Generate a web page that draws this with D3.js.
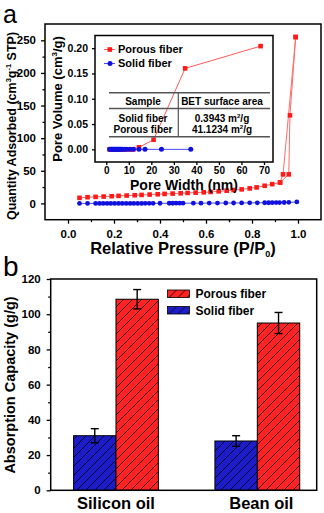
<!DOCTYPE html>
<html>
<head>
<meta charset="utf-8">
<script src="https://cdn.jsdelivr.net/npm/d3@7"></script>
<style>
  body { margin: 0; background: #fff; }
  svg { font-family: "Liberation Sans", Arial, sans-serif; font-weight: bold; }
</style>
</head>
<body>
<svg id="chart" width="324" height="513"></svg>
<script>
// --- panel a: N2 isotherm ---
var pressure_porous = [0.05,0.085,0.12,0.155,0.19,0.22,0.255,0.29,0.32,0.355,0.39,0.42,0.455,0.49,0.52,0.555,0.59,0.62,0.655,0.69,0.72,0.755,0.79,0.82,0.855,0.888,0.922,0.935,0.99];
var adsorbed_porous = [8.5,9.5,10,10.5,11,11.5,12,12.5,13,13.5,14,14.5,15,15.5,16,16.5,17,17.5,18.5,19.5,20.5,21.5,23,24.5,27,29.5,32,44.5,255];
var pressure_porous_des = [0.99,0.965,0.96,0.922];
var adsorbed_porous_des = [255,135,44.5,32];
var pressure_solid = [0.05,0.085,0.12,0.137,0.153,0.17,0.186,0.203,0.22,0.236,0.253,0.27,0.286,0.303,0.32,0.336,0.353,0.37,0.40,0.44,0.455,0.47,0.485,0.50,0.545,0.578,0.614,0.65,0.686,0.72,0.755,0.79,0.823,0.855,0.872,0.888,0.905,0.92,0.94,0.96,0.995];
var adsorbed_solid = [0,0,0,0,0,0,0,0,0,0,0,0,0,0,0,0.1,0.1,0.1,0.2,0.2,0.2,0.3,0.3,0.3,0.4,0.4,0.5,0.5,0.6,0.6,0.7,0.8,0.9,1,1,1.1,1.2,1.3,1.4,1.6,2.2];

// inset: pore size distribution
var width_porous = [1.5,2,2.5,3,3.5,4,4.5,5,5.5,6,7,8,9,10.5,12,14.5,21,35,68.5];
var volume_porous = [0,0,0,0,0,0,0,0,0,0,0,0,0,0,0,0.004,0.019,0.16,0.204];
var width_solid = [1.5,2,2.5,3,3.5,4,4.5,5,5.5,6,6.5,7,8,9,10.5,12,14.5,17.2,24.5,37.5];
var volume_solid = [0,0,0,0,0,0,0,0,0,0,0,0,0,0,0,0,0,0,0,0];

var table_samples = ["Solid fiber", "Porous fiber"];
var table_bet = ["0.3943", "41.1234"];

// --- panel b: absorption capacity ---
var oils = ["Silicon oil", "Bean oil"];
var fibers = ["Solid fiber", "Porous fiber"];
var capacity_solid = [31, 28];
var capacity_porous = [108.5, 95];
var error_solid = [4, 3];
var error_porous = [5.5, 6];

var RED = "#ff2222", BLUE = "#1c1cc8";

var svg = d3.select("#chart");
var defs = svg.append("defs");
[["hatch-red", RED], ["hatch-blue", BLUE]].forEach(function(h) {
  var p = defs.append("pattern")
    .attr("id", h[0])
    .attr("patternUnits", "userSpaceOnUse")
    .attr("width", 9).attr("height", 9);
  p.append("rect").attr("width", 9).attr("height", 9).attr("fill", h[1]);
  p.append("path")
    .attr("d", "M-2,2 L2,-2 M0,9 L9,0 M7,11 L11,7")
    .attr("stroke", "#000").attr("stroke-width", 0.8);
});

function frame(g, x0, y0, x1, y1) {
  g.append("rect")
    .attr("x", x0).attr("y", y0)
    .attr("width", x1 - x0).attr("height", y1 - y0)
    .attr("fill", "none").attr("stroke", "#000").attr("stroke-width", 1.5);
}

function styleAxis(sel, size) {
  sel.select(".domain").remove();
  sel.selectAll("line").attr("stroke", "#000").attr("stroke-width", 1.3);
  sel.selectAll("text").attr("fill", "#000").style("font-size", size + "px").style("font-weight", "bold");
}

// ================= panel a =================
var a = svg.append("g");
var x = d3.scaleLinear().domain([-0.1, 1.1]).range([45, 321]);
var y = d3.scaleLinear().domain([-25, 275]).range([219.7, 24]);

a.append("g")
  .attr("transform", "translate(0,219.7)")
  .call(d3.axisBottom(x).tickValues([0.1,0.3,0.5,0.7,0.9]).tickSize(2.5).tickFormat(""))
  .call(styleAxis, 11);
a.append("g")
  .attr("transform", "translate(0,219.7)")
  .call(d3.axisBottom(x).tickValues([0,0.2,0.4,0.6,0.8,1.0]).tickSize(4).tickPadding(6).tickFormat(d3.format(".1f")))
  .call(styleAxis, 11.5);
a.append("g")
  .attr("transform", "translate(45,0)")
  .call(d3.axisLeft(y).tickValues([25,75,125,175,225]).tickSize(2.5).tickFormat(""))
  .call(styleAxis, 11);
a.append("g")
  .attr("transform", "translate(45,0)")
  .call(d3.axisLeft(y).tickValues([0,50,100,150,200,250]).tickSize(4).tickPadding(5))
  .call(styleAxis, 11.5);
frame(a, 45, 24, 321, 219.7);

var line = d3.line().x(function(d) { return x(d[0]); }).y(function(d) { return y(d[1]); });
var solidPts = d3.zip(pressure_solid, adsorbed_solid);
var porousPts = d3.zip(pressure_porous, adsorbed_porous);
var porousDes = d3.zip(pressure_porous_des, adsorbed_porous_des);

a.append("path").datum(solidPts).attr("d", line)
  .attr("fill", "none").attr("stroke", "#4a4aff").attr("stroke-width", 1);
a.selectAll(".sd").data(solidPts).enter().append("circle")
  .attr("cx", function(d) { return x(d[0]); }).attr("cy", function(d) { return y(d[1]); })
  .attr("r", 2.4).attr("fill", "#1010e0");
[porousPts, porousDes].forEach(function(pts) {
  a.append("path").datum(pts).attr("d", line)
    .attr("fill", "none").attr("stroke", "#ff6a6a").attr("stroke-width", 1);
  a.selectAll(null).data(pts).enter().append("rect")
    .attr("x", function(d) { return x(d[0]) - 2.3; }).attr("y", function(d) { return y(d[1]) - 2.3; })
    .attr("width", 4.6).attr("height", 4.6).attr("fill", "#ff1a1a");
});

a.append("text").attr("x", 3).attr("y", 22.5)
  .style("font-size", "25px").style("font-weight", "normal").text("a");

a.append("text")
  .attr("text-anchor", "middle")
  .attr("transform", "translate(16,126) rotate(-90)")
  .style("font-size", "12.5px")
  .call(function(t) {
    t.append("tspan").text("Quantity Adsorbed (cm");
    t.append("tspan").attr("dy", -5).style("font-size", "7.5px").text("3");
    t.append("tspan").attr("dy", 5).text("g");
    t.append("tspan").attr("dy", -5).style("font-size", "7.5px").text("-1");
    t.append("tspan").attr("dy", 5).text(" STP)");
  });

a.append("text")
  .attr("text-anchor", "middle")
  .attr("x", 183).attr("y", 254)
  .style("font-size", "16.5px")
  .call(function(t) {
    t.append("tspan").text("Relative Pressure (P/P");
    t.append("tspan").attr("dy", 3).style("font-size", "9px").text("0");
    t.append("tspan").attr("dy", -3).text(")");
  });

// ---- inset ----
var ins = svg.append("g");
var xi = d3.scaleLinear().domain([-5, 74]).range([95, 273]);
var yi = d3.scaleLinear().domain([-0.025, 0.225]).range([162, 35.5]);

ins.append("rect").attr("x", 95).attr("y", 35.5).attr("width", 178).attr("height", 126.5).attr("fill", "#fff");
ins.append("g")
  .attr("transform", "translate(0,162)")
  .call(d3.axisBottom(xi).tickValues([0,10,20,30,40,50,60,70]).tickSize(3).tickPadding(2))
  .call(styleAxis, 10);
ins.append("g")
  .attr("transform", "translate(95,0)")
  .call(d3.axisLeft(yi).tickValues([0,0.05,0.1,0.15,0.2]).tickSize(3).tickPadding(4).tickFormat(d3.format(".2f")))
  .call(styleAxis, 10.5);
frame(ins, 95, 35.5, 273, 162);

var iline = d3.line().x(function(d) { return xi(d[0]); }).y(function(d) { return yi(d[1]); });
var iPorous = d3.zip(width_porous, volume_porous);
var iSolid = d3.zip(width_solid, volume_solid);

ins.append("path").datum(iPorous).attr("d", iline)
  .attr("fill", "none").attr("stroke", "#ff5a5a").attr("stroke-width", 1);
ins.selectAll(".ip").data(iPorous).enter().append("rect")
  .attr("x", function(d) { return xi(d[0]) - 2.3; }).attr("y", function(d) { return yi(d[1]) - 2.3; })
  .attr("width", 4.6).attr("height", 4.6).attr("fill", "#ff1a1a");
ins.append("path").datum(iSolid).attr("d", iline)
  .attr("fill", "none").attr("stroke", "#4a4aff").attr("stroke-width", 1);
ins.selectAll(".is").data(iSolid).enter().append("circle")
  .attr("cx", function(d) { return xi(d[0]); }).attr("cy", function(d) { return yi(d[1]); })
  .attr("r", 2.5).attr("fill", "#1010e0");

// inset legend
var ileg = ins.append("g");
ileg.append("line").attr("x1", 104).attr("x2", 115).attr("y1", 49.5).attr("y2", 49.5).attr("stroke", "#ff5a5a");
ileg.append("rect").attr("x", 107.5).attr("y", 47.2).attr("width", 4.6).attr("height", 4.6).attr("fill", "#ff1a1a");
ileg.append("text").attr("x", 118).attr("y", 53.3).style("font-size", "11px").text("Porous fiber");
ileg.append("line").attr("x1", 104).attr("x2", 115).attr("y1", 63.5).attr("y2", 63.5).attr("stroke", "#4a4aff");
ileg.append("circle").attr("cx", 110).attr("cy", 63.5).attr("r", 2.5).attr("fill", "#1010e0");
ileg.append("text").attr("x", 118).attr("y", 67.3).style("font-size", "11px").text("Solid fiber");

// BET table
var tb = ins.append("g");
[92.7, 108.5, 136.7].forEach(function(ty) {
  tb.append("line").attr("x1", 109).attr("x2", 270).attr("y1", ty).attr("y2", ty)
    .attr("stroke", "#555").attr("stroke-width", 1.5);
});
tb.append("line").attr("x1", 178.3).attr("x2", 178.3).attr("y1", 92.7).attr("y2", 136.7)
  .attr("stroke", "#555").attr("stroke-width", 1.2);
tb.append("text").attr("x", 143).attr("y", 104.5).attr("text-anchor", "middle").style("font-size", "10px").text("Sample");
tb.append("text").attr("x", 222).attr("y", 104.5).attr("text-anchor", "middle").style("font-size", "10px").text("BET surface area");
table_samples.forEach(function(s, i) {
  var ty = 121.5 + i * 11.5;
  tb.append("text").attr("x", 143).attr("y", ty).attr("text-anchor", "middle").style("font-size", "10px").text(s);
  tb.append("text").attr("x", 222).attr("y", ty).attr("text-anchor", "middle").style("font-size", "10px")
    .call(function(t) {
      t.append("tspan").text(table_bet[i] + " m");
      t.append("tspan").attr("dy", -4).style("font-size", "6px").text("2");
      t.append("tspan").attr("dy", 4).text("/g");
    });
});

ins.append("text")
  .attr("text-anchor", "middle")
  .attr("transform", "translate(62,99) rotate(-90)")
  .style("font-size", "13px")
  .call(function(t) {
    t.append("tspan").text("Pore Volume (cm");
    t.append("tspan").attr("dy", -5).style("font-size", "8px").text("3");
    t.append("tspan").attr("dy", 5).text("/g)");
  });
ins.append("text").attr("x", 184).attr("y", 190).attr("text-anchor", "middle")
  .style("font-size", "14px").text("Pore Width (nm)");

// ================= panel b =================
var b = svg.append("g");
var yb = d3.scaleLinear().domain([0, 120]).range([490.3, 279]);
var xb = d3.scaleBand().domain(oils).range([45.3, 328]).paddingInner(0.4).paddingOuter(0.2);
var xs = d3.scaleBand().domain(fibers).range([0, xb.bandwidth()]);

b.append("g")
  .attr("transform", "translate(50.7,0)")
  .call(d3.axisLeft(yb).tickValues([10,30,50,70,90,110]).tickSize(2.5).tickFormat(""))
  .call(styleAxis, 11);
b.append("g")
  .attr("transform", "translate(50.7,0)")
  .call(d3.axisLeft(yb).tickValues([0,20,40,60,80,100,120]).tickSize(4).tickPadding(6))
  .call(styleAxis, 11.5);

var bars = [];
oils.forEach(function(o, i) {
  bars.push({ oil: o, fiber: "Solid fiber", v: capacity_solid[i], e: error_solid[i], fill: "url(#hatch-blue)" });
  bars.push({ oil: o, fiber: "Porous fiber", v: capacity_porous[i], e: error_porous[i], fill: "url(#hatch-red)" });
});

b.selectAll(".bar").data(bars).enter().append("rect")
  .attr("x", function(d) { return xb(d.oil) + xs(d.fiber); })
  .attr("y", function(d) { return yb(d.v); })
  .attr("width", xs.bandwidth())
  .attr("height", function(d) { return yb(0) - yb(d.v); })
  .attr("fill", function(d) { return d.fill; })
  .attr("stroke", "#000").attr("stroke-width", 1);

var eb = b.selectAll(".err").data(bars).enter().append("g")
  .attr("transform", function(d) { return "translate(" + (xb(d.oil) + xs(d.fiber) + xs.bandwidth() / 2) + ",0)"; })
  .attr("stroke", "#000").attr("stroke-width", 1.4);
eb.append("line").attr("y1", function(d) { return yb(d.v - d.e); }).attr("y2", function(d) { return yb(d.v + d.e); });
eb.append("line").attr("x1", -4).attr("x2", 4).attr("y1", function(d) { return yb(d.v + d.e); }).attr("y2", function(d) { return yb(d.v + d.e); });
eb.append("line").attr("x1", -4).attr("x2", 4).attr("y1", function(d) { return yb(d.v - d.e); }).attr("y2", function(d) { return yb(d.v - d.e); });

frame(b, 50.7, 279, 316.7, 490.3);

b.selectAll(".cat").data(oils).enter().append("text")
  .attr("x", function(d) { return xb(d) + xb.bandwidth() / 2 + (d === "Bean oil" ? 4 : 0); })
  .attr("y", 508.5)
  .attr("text-anchor", "middle")
  .style("font-size", "16.5px")
  .text(function(d) { return d; });

// legend
var bl = b.selectAll(".leg").data(["Porous fiber", "Solid fiber"]).enter().append("g")
  .attr("transform", function(d, i) { return "translate(167.5," + (290 + i * 16.5) + ")"; });
bl.append("rect").attr("width", 22).attr("height", 7.5)
  .attr("fill", function(d) { return d === "Porous fiber" ? "url(#hatch-red)" : "url(#hatch-blue)"; })
  .attr("stroke", "#000").attr("stroke-width", 0.8);
bl.append("text").attr("x", 28).attr("y", 8).style("font-size", "12px").text(function(d) { return d; });

b.append("text").attr("x", 3).attr("y", 276)
  .style("font-size", "28px").style("font-weight", "normal").text("b");

b.append("text")
  .attr("text-anchor", "middle")
  .attr("transform", "translate(15,385) rotate(-90)")
  .style("font-size", "14.5px")
  .text("Absorption Capacity (g/g)");
</script>
</body>
</html>
